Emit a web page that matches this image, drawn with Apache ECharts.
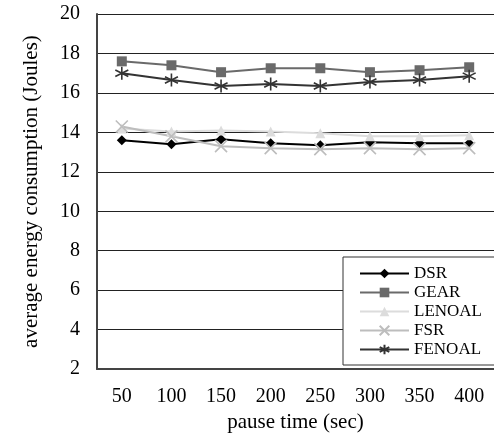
<!DOCTYPE html>
<html><head><meta charset="utf-8">
<script src="https://cdn.jsdelivr.net/npm/echarts@6/dist/echarts.min.js"></script>
<style>html,body{margin:0;padding:0;background:#fff}#c{width:494px;height:438px}</style>
</head><body><div id="c"></div>
<script>
const categories = ['50','100','150','200','250','300','350','400'];
const DSR    = [13.6, 13.4, 13.65, 13.45, 13.35, 13.5, 13.45, 13.45];
const GEAR   = [17.6, 17.4, 17.05, 17.25, 17.25, 17.05, 17.15, 17.3];
const LENOAL = [14.2, 14.05, 14.1, 14.05, 13.95, 13.8, 13.8, 13.85];
const FSR    = [14.3, 13.8, 13.3, 13.2, 13.15, 13.2, 13.15, 13.2];
const FENOAL = [17.0, 16.65, 16.35, 16.45, 16.35, 16.55, 16.65, 16.85];
const yTicks = { min: 2, max: 20, interval: 2 };

const FONT = '"Liberation Serif", "Times New Roman", serif';
const xPath = 'path://M0,0L10,10M10,0L0,10';
const starPath = 'path://M5,0L5,10M0.7,2.5L9.3,7.5M0.7,7.5L9.3,2.5';

function mk(name, data, color, symbol, size, stroke) {
  return {
    name, type: 'line', data, symbol, symbolSize: size,
    lineStyle: { color, width: 2 },
    itemStyle: stroke ? { color: 'rgba(0,0,0,0)', borderColor: color, borderWidth: 1.6 } : { color },
    emphasis: { disabled: true }
  };
}

const chart = echarts.init(document.getElementById('c'), null, { renderer: 'canvas' });
chart.setOption({
  animation: false,
  backgroundColor: '#fff',
  grid: { left: 97, top: 14, width: 400, height: 356 },
  xAxis: {
    type: 'category', data: categories, boundaryGap: true,
    axisLine: { lineStyle: { color: '#444', width: 2 } },
    axisTick: { inside: true, length: 5, lineStyle: { color: '#444', width: 1.5 } },
    axisLabel: { color: '#000', fontFamily: FONT, fontSize: 20, margin: 18 },
    name: 'pause time (sec)', nameLocation: 'middle', nameGap: 41,
    nameTextStyle: { color: '#000', fontFamily: FONT, fontSize: 21 }
  },
  yAxis: {
    type: 'value', min: yTicks.min, max: yTicks.max, interval: yTicks.interval,
    axisLine: { show: true, lineStyle: { color: '#444', width: 2 } },
    axisTick: { show: false },
    splitLine: { lineStyle: { color: '#222', width: 1 } },
    axisLabel: { color: '#000', fontFamily: FONT, fontSize: 20, margin: 17 },
    name: 'average energy consumption (Joules)', nameLocation: 'middle', nameGap: 55,
    nameTextStyle: { color: '#000', fontFamily: FONT, fontSize: 21 }
  },
  legend: {
    orient: 'vertical', left: 343, top: 257,
    backgroundColor: '#fff', borderColor: '#333', borderWidth: 1,
    padding: [8, 120, 7, 16],
    itemWidth: 49, itemHeight: 12, itemGap: 2,
    textStyle: { color: '#000', fontFamily: FONT, fontSize: 17, lineHeight: 17 },
    data: ['DSR', 'GEAR', 'LENOAL', 'FSR', 'FENOAL']
  },
  series: [
    mk('DSR', DSR, '#000000', 'diamond', 10, false),
    mk('GEAR', GEAR, '#6a6a6a', 'rect', 10, false),
    mk('LENOAL', LENOAL, '#dcdcdc', 'triangle', 10, false),
    mk('FSR', FSR, '#bdbdbd', xPath, 12, true),
    mk('FENOAL', FENOAL, '#333333', starPath, 13, true)
  ]
});
</script></body></html>
